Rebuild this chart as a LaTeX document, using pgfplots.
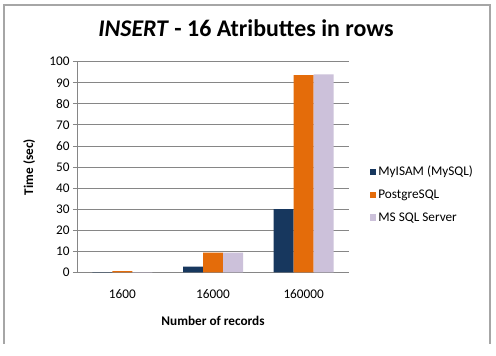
\documentclass[border=0pt]{standalone}
\usepackage{pgfplots}
\pgfplotsset{compat=1.18}
\usepackage{fontspec}
\setmainfont{Carlito}
\definecolor{cblue}{HTML}{17375E}
\definecolor{corange}{HTML}{E46C0A}
\definecolor{clilac}{HTML}{CCC1DA}
\definecolor{cgrid}{HTML}{868686}
\definecolor{cframe}{HTML}{A6A6A6}
\begin{document}
\begin{tikzpicture}
\path[use as bounding box, fill=white] (0bp,0bp) rectangle (496bp,356bp);
\draw[color=cframe, line width=1.3bp] (4bp,12bp) -- (4bp,351bp) -- (490bp,351bp) -- (490bp,12bp);
\node[font=\bfseries\fontsize{24}{28}\selectfont, anchor=center] at (246bp,327.5bp) {\textit{INSERT} - 16 Atributtes in rows};
\begin{axis}[
  at={(77bp,83.7bp)}, anchor=south west,
  scale only axis, width=272bp, height=210.6bp,
  ymin=0, ymax=100, ytick={0,10,...,100},
  xmin=-0.5, xmax=2.5, xtick={0,1,2},
  xticklabels={1600,16000,160000},
  ybar=0pt, bar width=20bp,
  axis x line*=bottom, axis y line*=left,
  axis line style={cgrid, line width=0.8bp, -},
  ymajorgrids, grid style={cgrid, line width=0.8bp},
  major x tick style={draw=none},
  major y tick style={cgrid, line width=0.8bp},
  tick align=outside, major tick length=4bp,
  /pgf/number format/assume math mode=true,
  tick label style={font=\fontsize{13.3}{15}\selectfont, color=black},
  xticklabel style={yshift=-10bp},
  ylabel={Time (sec)}, xlabel={Number of records},
  label style={font=\bfseries\fontsize{13.3}{15}\selectfont},
  ylabel style={at={(axis description cs:-0.176,0.5)}, anchor=center},
  xlabel style={at={(axis description cs:0.5,-0.231)}, anchor=center},
  legend style={at={(axis description cs:1.065,0.37)}, anchor=west, draw=none, fill=none,
    font=\fontsize{13.3}{15}\selectfont, row sep=8.5bp,
    /tikz/every even column/.append style={column sep=2bp}},
  legend cell align=left,
  legend image code/.code={\fill[#1] (0bp,-3.2bp) rectangle (6.5bp,3.2bp);},
]
\addplot[fill=cblue, draw=none] coordinates {(0,0.05) (1,2.7) (2,30)};
\addplot[fill=corange, draw=none] coordinates {(0,0.6) (1,9.3) (2,93.6)};
\addplot[fill=clilac, draw=none] coordinates {(0,0.05) (1,9.3) (2,94)};
\legend{MyISAM (MySQL), PostgreSQL, MS SQL Server}
\end{axis}
\end{tikzpicture}
\end{document}
